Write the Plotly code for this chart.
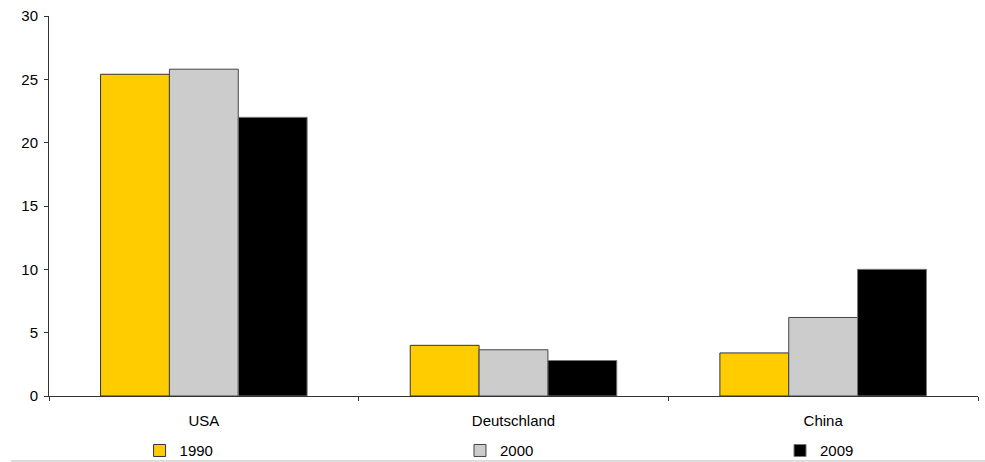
import plotly.graph_objects as go

# Categories and series values
countries = ["USA", "Deutschland", "China"]
years = ["1990", "2000", "2009"]
values_1990 = [25.4, 4.0, 3.4]
values_2000 = [25.8, 3.65, 6.2]
values_2009 = [22.0, 2.8, 10.0]
series = [values_1990, values_2000, values_2009]
colors = ["#FFCC00", "#CCCCCC", "#000000"]
outlines = ["#333333", "#444444", "#777777"]

y_ticks = [0, 5, 10, 15, 20, 25, 30]

FONT = "Liberation Sans, Arial, sans-serif"
legend_ids = ["legend", "legend2", "legend3"]
legend_x = [0.0975, 0.4424, 0.7869]

fig = go.Figure()
for name, vals, col, oc, lid in zip(years, series, colors, outlines, legend_ids):
    fig.add_trace(go.Bar(
        x=countries, y=vals, name=name, legend=lid,
        marker=dict(color=col, line=dict(color=oc, width=1)),
    ))

legend_style = dict(
    orientation="h", xanchor="left", y=-0.144, yanchor="middle",
    font=dict(family=FONT, size=15, color="#000000"),
    bgcolor="rgba(0,0,0,0)",
)

fig.update_layout(
    width=985, height=462,
    margin=dict(l=49, r=7, t=16, b=66, autoexpand=False),
    paper_bgcolor="white", plot_bgcolor="white",
    barmode="group", bargap=0.333, bargroupgap=0,
    font=dict(family=FONT, size=15, color="#000000"),
    showlegend=True,
    legend=dict(x=legend_x[0], **legend_style),
    legend2=dict(x=legend_x[1], **legend_style),
    legend3=dict(x=legend_x[2], **legend_style),
    xaxis=dict(
        showline=True, linecolor="#333333", linewidth=1,
        ticks="outside", ticklen=4, tickcolor="#333333",
        tickson="boundaries", showgrid=False,
        ticklabelstandoff=11,
    ),
    yaxis=dict(
        range=[0, 30], tickvals=y_ticks,
        showline=True, linecolor="#333333", linewidth=1,
        ticks="outside", ticklen=4, tickcolor="#333333",
        showgrid=False, zeroline=False,
        ticklabelstandoff=3,
    ),
)

# Thin rule beneath the legend
fig.add_shape(type="line", xref="paper", yref="paper",
              x0=-0.041, x1=1.01, y0=-0.171, y1=-0.171,
              line=dict(color="#BBBBBB", width=1))

fig.write_html("out.html")
